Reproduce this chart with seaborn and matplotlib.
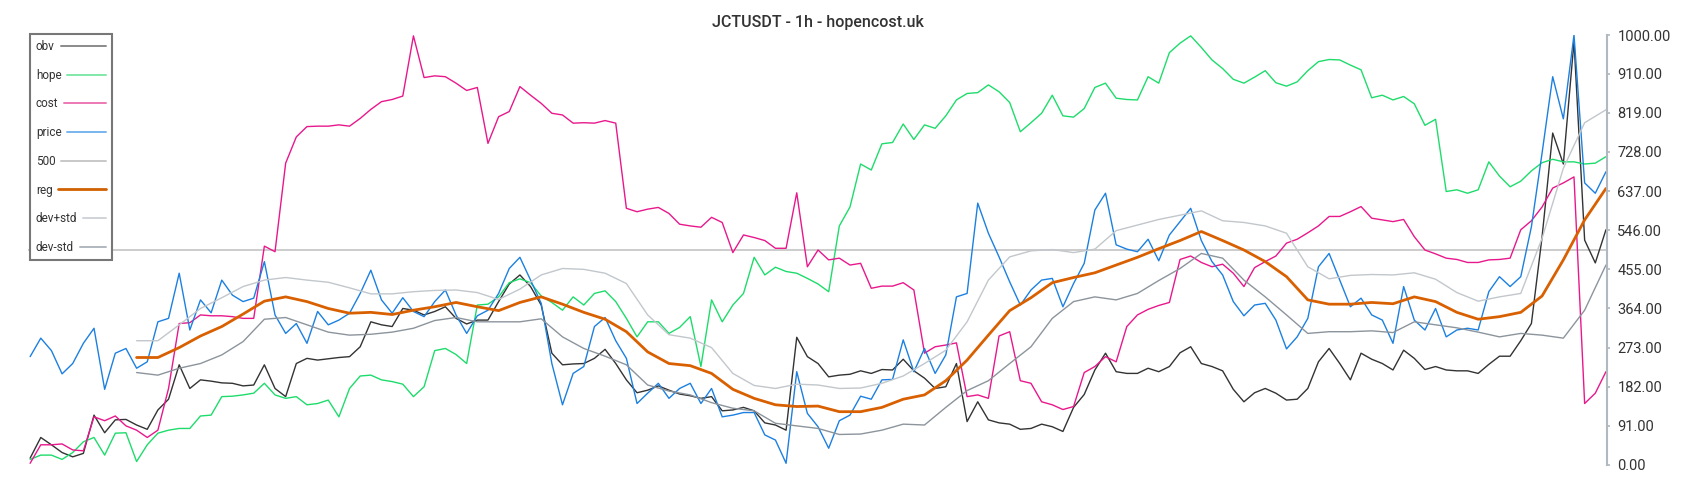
import numpy as np
import pandas as pd
import matplotlib
matplotlib.use("Agg")
import matplotlib.pyplot as plt
from matplotlib.lines import Line2D
from matplotlib.legend_handler import HandlerBase
from matplotlib.font_manager import FontProperties
import seaborn as sns

# ---------------- data ----------------
TITLE = "JCTUSDT - 1h - hopencost.uk"
hours = np.arange(0, 297, 2)          # fast series sampled every 2 h
hours_s = np.arange(20, 297, 4)       # smoothed series sampled every 4 h

price = [252, 295, 266, 212, 236, 283, 318, 176, 260, 271,
         225, 240, 333, 341, 446, 314, 384, 354, 430, 395,
         380, 388, 473, 349, 306, 329, 283, 357, 326, 337,
         353, 399, 453, 384, 353, 389, 357, 345, 380, 407,
         349, 306, 347, 360, 399, 457, 483, 430, 376, 236,
         140, 213, 229, 322, 343, 289, 248, 143, 167, 190,
         155, 178, 190, 143, 178, 112, 116, 122, 122, 70,
         58, 4, 217, 120, 89, 39, 103, 116, 160, 153,
         198, 199, 291, 217, 271, 213, 256, 391, 399, 609,
         539, 484, 426, 372, 407, 430, 434, 368, 422, 469,
         593, 632, 512, 502, 496, 525, 475, 535, 566, 597,
         522, 473, 442, 380, 347, 372, 376, 337, 270, 298,
         341, 461, 492, 430, 368, 388, 349, 337, 283, 415,
         337, 314, 364, 298, 314, 318, 314, 403, 438, 415,
         438, 554, 725, 903, 805, 1000, 656, 632, 682]

obv = [16, 64, 47, 29, 19, 27, 116, 75, 105, 106,
       93, 83, 128, 153, 233, 178, 198, 195, 191, 190,
       184, 186, 233, 178, 159, 236, 248, 244, 247, 250,
       252, 275, 333, 326, 322, 364, 360, 349, 357, 368,
       341, 328, 337, 337, 380, 421, 442, 415, 372, 260,
       233, 235, 236, 248, 269, 236, 198, 168, 174, 184,
       174, 165, 161, 155, 159, 126, 128, 134, 126, 98,
       93, 81, 297, 252, 236, 205, 209, 211, 219, 213,
       222, 221, 246, 219, 202, 178, 182, 236, 101, 147,
       105, 98, 95, 83, 85, 95, 89, 78, 134, 164,
       221, 260, 217, 213, 213, 225, 217, 229, 261, 275,
       236, 229, 219, 176, 147, 168, 178, 167, 151, 153,
       178, 240, 271, 236, 198, 260, 246, 236, 221, 267,
       248, 222, 229, 221, 219, 219, 213, 234, 253, 253,
       289, 329, 530, 772, 700, 985, 523, 470, 547]

hope = [13, 23, 23, 13, 29, 54, 64, 23, 74, 75,
        8, 47, 74, 81, 85, 85, 114, 116, 159, 160,
        163, 167, 190, 163, 155, 159, 140, 143, 151, 112,
        178, 207, 209, 198, 194, 188, 159, 182, 266, 271,
        257, 236, 372, 374, 391, 424, 433, 424, 393, 378,
        360, 391, 372, 399, 405, 380, 341, 298, 333, 333,
        306, 320, 345, 229, 384, 333, 372, 399, 483, 442,
        460, 450, 446, 434, 421, 403, 556, 600, 700, 686,
        747, 750, 793, 757, 791, 783, 812, 849, 864, 866,
        884, 868, 843, 775, 796, 818, 860, 812, 809, 829,
        878, 888, 853, 850, 849, 903, 888, 959, 981, 998,
        971, 942, 922, 897, 888, 902, 917, 889, 881, 891,
        917, 938, 943, 942, 930, 919, 854, 860, 849, 857,
        840, 790, 804, 636, 640, 632, 640, 705, 672, 647,
        660, 684, 703, 711, 705, 705, 700, 702, 717]

cost = [4, 47, 47, 49, 35, 33, 112, 103, 114, 91,
        81, 64, 81, 178, 329, 331, 349, 347, 347, 345,
        341, 341, 509, 496, 702, 763, 787, 788, 788, 791,
        788, 806, 827, 845, 850, 858, 998, 901, 905, 903,
        888, 871, 878, 748, 810, 822, 880, 860, 841, 818,
        814, 795, 796, 795, 801, 795, 597, 589, 595, 599,
        585, 560, 556, 553, 576, 564, 494, 535, 529, 522,
        504, 504, 633, 461, 500, 477, 481, 465, 469, 411,
        416, 416, 424, 407, 260, 275, 279, 284, 159, 163,
        155, 300, 310, 196, 190, 147, 140, 129, 136, 215,
        229, 252, 240, 322, 349, 362, 371, 378, 478, 486,
        471, 461, 467, 446, 415, 459, 473, 486, 516, 525,
        540, 556, 578, 578, 589, 601, 574, 570, 566, 571,
        531, 500, 491, 481, 478, 471, 471, 477, 478, 481,
        547, 568, 600, 644, 656, 670, 143, 167, 217]

reg = [250, 250, 273, 300, 322, 351, 381, 391,
       380, 364, 353, 355, 350, 360, 368, 378, 368, 359, 378, 391, 374,
       355, 339, 310, 263, 236, 231, 213, 176, 155, 140, 136, 137, 124,
       124, 134, 153, 163, 196, 244, 302, 359, 389, 424, 436, 447, 465,
       483, 503, 522, 543, 522, 500, 473, 438, 384, 374, 374, 378, 375,
       391, 380, 355, 339, 345, 355, 393, 477, 570, 643]

dev_plus = [289, 289, 326, 364, 389, 415, 430, 436,
            430, 425, 412, 398, 398, 403, 406, 407, 401, 385, 409, 442, 457,
            455, 446, 422, 349, 303, 295, 273, 213, 185, 178, 188, 186, 178,
            179, 190, 207, 236, 267, 333, 430, 484, 498, 501, 494, 502, 545,
            558, 571, 581, 591, 568, 564, 556, 539, 461, 433, 441, 443, 442,
            447, 432, 401, 381, 391, 399, 527, 690, 796, 826]

dev_minus = [215, 209, 225, 236, 256, 287, 339, 343,
             326, 309, 302, 304, 309, 318, 336, 343, 333, 333, 333, 340, 298,
             271, 253, 233, 186, 172, 163, 145, 132, 126, 97, 91, 85, 71,
             72, 81, 95, 93, 134, 173, 196, 236, 275, 341, 380, 391, 384,
             399, 429, 457, 492, 481, 430, 391, 349, 306, 310, 310, 312, 308,
             333, 326, 319, 309, 298, 306, 302, 295, 360, 465]

LEVEL = 500
yticks = [0, 91, 182, 273, 364, 455, 546, 637, 728, 819, 910, 1000]
labels = ["obv", "hope", "cost", "price", "500", "reg", "dev+std", "dev-std"]

# ---------------- styling ----------------
sns.set_style("white")
FONT = ["Roboto", "DejaVu Sans"]
plt.rcParams["font.family"] = FONT

line_colors = {"obv": "#333333", "hope": "#1edc6c", "cost": "#e8188c",
               "price": "#1c80e0", "500": "#c4c4c4", "reg": "#d96000",
               "dev+std": "#c2c7cc", "dev-std": "#8c949c"}
legend_colors = {"obv": "#8a8a8a", "hope": "#80e8a8", "cost": "#ec78b4",
                 "price": "#78b4ec", "500": "#c8c8c8", "reg": "#d06000",
                 "dev+std": "#d0d4d8", "dev-std": "#b0b8c0"}

fig = plt.figure(figsize=(17, 5), dpi=100)
ax = fig.add_axes([28 / 1700, 35 / 500, (1607 - 28) / 1700, 430 / 500])

fast = [("obv", obv), ("hope", hope), ("cost", cost), ("price", price)]
for name, vals in fast:
    sns.lineplot(x=hours, y=vals, ax=ax, color=line_colors[name],
                 linewidth=1.0, legend=False)

ax.axhline(LEVEL, color=line_colors["500"], linewidth=1.2, zorder=1.5)

sns.lineplot(x=hours_s, y=reg, ax=ax, color=line_colors["reg"],
             linewidth=2.0, legend=False)
sns.lineplot(x=hours_s, y=dev_plus, ax=ax, color=line_colors["dev+std"],
             linewidth=1.0, legend=False)
sns.lineplot(x=hours_s, y=dev_minus, ax=ax, color=line_colors["dev-std"],
             linewidth=1.0, legend=False)

ax.set_xlim(-0.4, 296.2)
ax.set_ylim(0, 1000)
ax.set_xticks([])
ax.set_xlabel("")
ax.set_ylabel("")
ax.yaxis.tick_right()
ax.set_yticks(yticks)
ax.set_yticklabels([f"{t:.2f}" for t in yticks])
for s in ["left", "top", "bottom"]:
    ax.spines[s].set_visible(False)
ax.spines["right"].set_color("#b0b8c0")
ax.spines["right"].set_linewidth(1.5)
ax.tick_params(axis="y", which="both", right=True, left=False,
               direction="out", length=2.5, width=1.2, color="#b0b8c0",
               labelcolor="#333333", labelsize=10.5, pad=5)

ax.set_title(TITLE, fontsize=11.5, color="#333333", pad=5.8, fontweight="medium")

# ---------------- legend: labels left-aligned, lines right-aligned ----------------
LEG_FS = 8.5
HTP = 0.5
renderer = fig.canvas.get_renderer()
prop = FontProperties(family=FONT, size=LEG_FS)
widths_pt = []
for l in labels:
    w, h, d = renderer.get_text_width_height_descent(l, prop, ismath=False)
    widths_pt.append(w * 72.0 / fig.dpi)
max_w = max(widths_pt)
extras = [max_w - w for w in widths_pt]


class RightLine(HandlerBase):
    def __init__(self, extra):
        super().__init__()
        self.extra = extra

    def create_artists(self, legend, orig_handle, xdescent, ydescent,
                       width, height, fontsize, trans):
        y = height / 2.0 - ydescent
        ln = Line2D([-xdescent - self.extra, -xdescent + width], [y, y],
                    color=orig_handle.get_color(),
                    linewidth=orig_handle.get_linewidth(), transform=trans)
        return [ln]


handles = [Line2D([], [], color=legend_colors[l],
                  linewidth=2.0 if l == "reg" else 1.4) for l in labels]
hmap = {h: RightLine(e) for h, e in zip(handles, extras)}
leg = ax.legend(handles, labels, loc="upper left", bbox_to_anchor=(0.0013, 1.002),
                borderaxespad=0, markerfirst=False, frameon=True, fancybox=False,
                edgecolor="#777777", framealpha=1, fontsize=LEG_FS,
                handlelength=1.9, handletextpad=HTP, labelspacing=1.33,
                borderpad=0.5, handler_map=hmap)
leg.get_frame().set_linewidth(1.5)
for t in leg.get_texts():
    t.set_color("#333333")
leg.set_zorder(10)
try:
    rows = leg._legend_handle_box.get_children()[0].get_children()
    for row, e in zip(rows, extras):
        row.sep = HTP * LEG_FS + e
except Exception:
    pass

fig.savefig("out.png", dpi=100)
